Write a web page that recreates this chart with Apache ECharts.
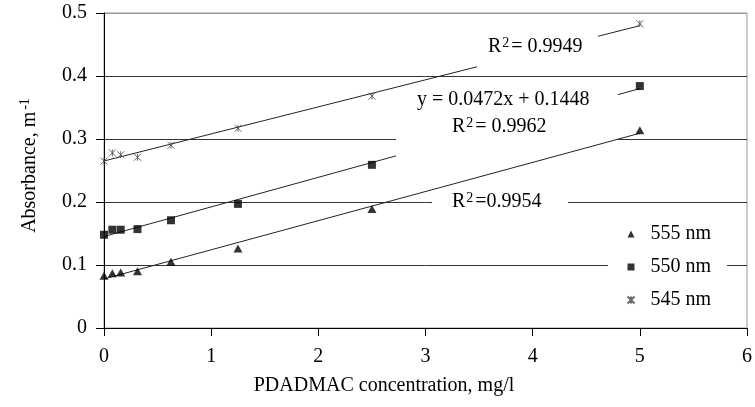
<!DOCTYPE html>
<html><head><meta charset="utf-8">
<script src="https://cdn.jsdelivr.net/npm/echarts@6/dist/echarts.min.js"></script>
<style>html,body{margin:0;padding:0;background:#fff}#c{width:755px;height:407px}</style>
</head><body><div id="c"></div>
<script>
const xVals = [0, 0.078, 0.156, 0.3125, 0.625, 1.25, 2.5, 5];
const y555 = [0.083, 0.087, 0.088, 0.090, 0.105, 0.126, 0.189, 0.314];
const y550 = [0.148, 0.156, 0.156, 0.157, 0.171, 0.197, 0.259, 0.384];
const y545 = [0.265, 0.278, 0.275, 0.271, 0.290, 0.317, 0.368, 0.483];
const seriesNames = ['555 nm', '550 nm', '545 nm'];
const r2Values = ['=0.9954', '= 0.9962', '= 0.9949'];
const eqLabel550 = 'y = 0.0472x + 0.1448';
const xTicks = [0, 1, 2, 3, 4, 5, 6];
const yTicks = [0, 0.1, 0.2, 0.3, 0.4, 0.5];

const FONT = '"Liberation Serif", "Times New Roman", serif';
const FS = 20;
function fit(xs, ys) {
  const n = xs.length;
  const mx = xs.reduce((a, b) => a + b, 0) / n;
  const my = ys.reduce((a, b) => a + b, 0) / n;
  let sxy = 0, sxx = 0;
  for (let i = 0; i < n; i++) { sxy += (xs[i] - mx) * (ys[i] - my); sxx += (xs[i] - mx) ** 2; }
  const k = sxy / sxx;
  return [k, my - k * mx];
}
function trend(ys) {
  const [k, b] = fit(xVals, ys);
  const x0 = xVals[0], x1 = xVals[xVals.length - 1];
  return [[x0, k * x0 + b], [x1, k * x1 + b]];
}
const pts = ys => xVals.map((x, i) => [x, ys[i]]);
const star = 'path://M0,0L10,10M10,0L0,10M5,0L5,10';
const richR2 = {
  r: { fontSize: FS, fontFamily: FONT, fill: '#000' },
  s: { fontSize: 14, fontFamily: FONT, fill: '#000', verticalAlign: 'top', padding: [0, 2, 8, 1] }
};
function r2Text(x, y, v) {
  return { type: 'text', x: x, y: y, z: 3,
    style: { text: '{r|R}{s|2}{r|' + v + '}', rich: richR2, fill: '#000', font: FS + 'px ' + FONT, verticalAlign: 'middle' } };
}

const chart = echarts.init(document.getElementById('c'));
const trendStyle = { color: '#222', width: 1 };
chart.setOption({
  animation: false,
  textStyle: { fontFamily: FONT },
  grid: { left: 104, right: 4, top: 13, bottom: 79, show: true, borderColor: '#999', borderWidth: 1 },
  xAxis: {
    type: 'value', min: xTicks[0], max: xTicks[xTicks.length - 1], interval: 1,
    axisLine: { lineStyle: { color: '#000', width: 1 } },
    axisTick: { show: true, length: 8, lineStyle: { color: '#000' } },
    axisLabel: { color: '#000', fontSize: FS, fontFamily: FONT, margin: 19 },
    splitLine: { show: false },
    name: 'PDADMAC concentration, mg/l', nameLocation: 'middle', nameGap: 48,
    nameTextStyle: { color: '#000', fontSize: FS, fontFamily: FONT, padding: [0, 83, 0, 0] }
  },
  yAxis: {
    type: 'value', min: yTicks[0], max: yTicks[yTicks.length - 1], interval: 0.1,
    axisLine: { show: true, lineStyle: { color: '#000', width: 1 } },
    axisTick: { show: true, length: 8, lineStyle: { color: '#000' } },
    axisLabel: { color: '#000', fontSize: FS, fontFamily: FONT, margin: 17 },
    splitLine: { show: true, lineStyle: { color: ['#333', '#333', '#333', '#333', '#333', '#999'], width: 1 } },
    name: '{a|Absorbance, m}{b|-1}', nameLocation: 'middle', nameGap: 62,
    nameTextStyle: { color: '#000', fontFamily: FONT, padding: [0, 0, 0, 10],
      rich: { a: { fontSize: FS, fontFamily: FONT, color: '#000' },
              b: { fontSize: 14, fontFamily: FONT, color: '#000', verticalAlign: 'top', padding: [0, 0, 10, 2] } } }
  },
  legend: {
    orient: 'vertical', left: 608, top: 212,
    data: seriesNames,
    backgroundColor: '#fff', padding: [12, 16, 12, 17],
    itemWidth: 7, itemHeight: 7, itemGap: 13,
    textStyle: { color: '#000', fontSize: FS, fontFamily: FONT, padding: [0, 0, 0, 11] }
  },
  graphic: [
    { type: 'rect', shape: { x: 477, y: 33, width: 121, height: 36 }, style: { fill: '#fff' }, z: 3 },
    r2Text(488, 47, r2Values[2]),
    { type: 'rect', shape: { x: 396, y: 89, width: 222, height: 71 }, style: { fill: '#fff' }, z: 3 },
    { type: 'text', x: 417, y: 100, z: 3, style: { text: eqLabel550, fill: '#000', font: FS + 'px ' + FONT, verticalAlign: 'middle' } },
    r2Text(452, 127, r2Values[1]),
    { type: 'rect', shape: { x: 432, y: 193, width: 136, height: 19 }, style: { fill: '#fff' }, z: 3 },
    r2Text(452, 202, r2Values[0])
  ],
  series: [
    { name: 'trend545', type: 'line', data: trend(y545), symbol: 'none', lineStyle: trendStyle, z: 2, silent: true },
    { name: 'trend550', type: 'line', data: trend(y550), symbol: 'none', lineStyle: trendStyle, z: 2, silent: true },
    { name: 'trend555', type: 'line', data: trend(y555), symbol: 'none', lineStyle: trendStyle, z: 4, silent: true },
    { name: seriesNames[0], type: 'scatter', data: pts(y555), symbol: 'triangle', symbolSize: [9, 8], itemStyle: { color: '#000' }, z: 5 },
    { name: seriesNames[1], type: 'scatter', data: pts(y550), symbol: 'rect', symbolSize: 8, itemStyle: { color: '#000' }, z: 5 },
    { name: seriesNames[2], type: 'scatter', data: pts(y545), symbol: star, symbolSize: 7,
      itemStyle: { color: 'none', borderColor: '#444', borderWidth: 1 }, z: 5 }
  ]
});
</script></body></html>
